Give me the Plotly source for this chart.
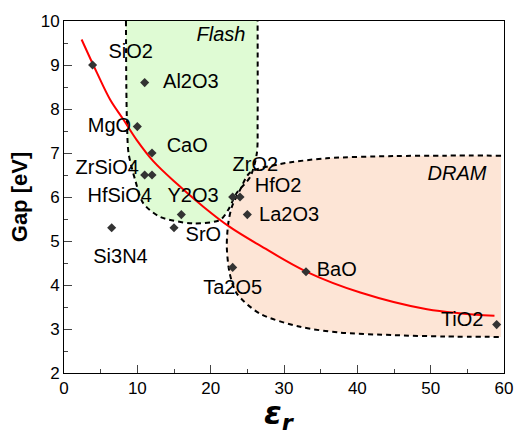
import plotly.graph_objects as go

# ---- data ----
materials = ["SiO2", "Al2O3", "MgO", "CaO", "ZrSiO4", "HfSiO4", "Y2O3", "SrO", "Si3N4",
             "ZrO2", "HfO2", "La2O3", "Ta2O5", "BaO", "TiO2"]
eps_r = [3.9, 11.0, 10.0, 12.0, 11.0, 12.0, 16.0, 15.0, 6.5, 23.0, 24.0, 25.0, 23.0, 33.0, 59.0]
gap_ev = [9.0, 8.6, 7.6, 7.0, 6.5, 6.5, 5.6, 5.3, 5.3, 6.0, 6.0, 5.6, 4.4, 4.3, 3.1]

# label positions (center of text)
label_eps = [9.1, 17.3, 6.2, 16.8, 5.9, 7.6, 17.6, 19.0, 7.7, 26.1, 29.2, 30.7, 23.0, 37.2, 54.3]
label_gap = [9.27, 8.58, 7.6, 7.14, 6.64, 5.99, 5.99, 5.11, 4.62, 6.70, 6.22, 5.57, 3.90, 4.32, 3.18]

# fitted trend (red curve)
fit_eps = [2.4, 4.5, 6.3, 8.1, 9.9, 12.2, 15.4, 19.0, 22.6, 26.7, 33.1, 40.4, 49.5, 58.7]
fit_gap = [9.58, 8.82, 8.21, 7.76, 7.30, 6.81, 6.30, 5.78, 5.32, 4.90, 4.30, 3.83, 3.45, 3.30]

# Flash region boundary
flash_eps = [8.45, 8.5, 8.6, 8.8, 9.7, 10.8, 13.1, 17.6, 21.3, 22.4, 23.55, 25.4, 26.3, 26.4, 26.4]
flash_gap = [10.0, 8.5, 7.6, 7.0, 6.39, 5.86, 5.55, 5.40, 5.48, 5.71, 6.09, 6.46, 7.0, 7.76, 10.0]

# DRAM region boundary
dram_eps = [59.6, 52.0, 44.9, 35.8, 29.5, 25.4, 24.0, 22.9, 22.4, 22.2, 22.6, 23.55, 26.7, 32.2, 37.6, 45.0, 52.0, 59.6]
dram_gap = [6.94, 6.94, 6.93, 6.88, 6.75, 6.56, 6.16, 5.78, 5.40, 4.87, 4.26, 3.81, 3.35, 3.05, 2.92, 2.86, 2.83, 2.82]

region_names = ["Flash", "DRAM"]
region_label_eps = [21.4, 53.6]
region_label_gap = [9.67, 6.49]

x_title = "<b><i>ε<sub>r</sub></i></b>"
y_title = "<b>Gap [eV]</b>"

FONT = "Liberation Sans, Arial, Helvetica, sans-serif"

fig = go.Figure()

fig.add_trace(go.Scatter(x=flash_eps, y=flash_gap, mode="lines", fill="toself",
                         fillcolor="#dffbd4", line=dict(width=0, shape="spline", smoothing=0.8),
                         hoverinfo="skip", showlegend=False))
fig.add_trace(go.Scatter(x=dram_eps, y=dram_gap, mode="lines", fill="toself",
                         fillcolor="#fde5d6", line=dict(width=0, shape="spline", smoothing=0.8),
                         hoverinfo="skip", showlegend=False))
for xs, ys in [(flash_eps, flash_gap), (dram_eps, dram_gap)]:
    fig.add_trace(go.Scatter(x=xs, y=ys, mode="lines",
                             line=dict(color="black", width=2, dash="5px,4px", shape="spline", smoothing=0.8),
                             hoverinfo="skip", showlegend=False))

fig.add_trace(go.Scatter(x=fit_eps, y=fit_gap, mode="lines",
                         line=dict(color="#ff0000", width=2, shape="spline", smoothing=1.0),
                         showlegend=False))

fig.add_trace(go.Scatter(x=eps_r, y=gap_ev, mode="markers",
                         marker=dict(symbol="diamond", size=7, color="#333333"),
                         showlegend=False))

fig.add_trace(go.Scatter(x=label_eps, y=label_gap, mode="text", text=materials,
                         textposition="middle center",
                         textfont=dict(family=FONT, size=20, color="black"),
                         showlegend=False))

fig.add_trace(go.Scatter(x=region_label_eps, y=region_label_gap, mode="text",
                         text=["<i>" + n + "</i>" for n in region_names],
                         textposition="middle center",
                         textfont=dict(family=FONT, size=20, color="black"),
                         showlegend=False))

fig.add_annotation(text=x_title, xref="paper", yref="paper", x=0.49, y=-0.118,
                   xanchor="center", yanchor="middle", showarrow=False,
                   font=dict(family="DejaVu Sans, sans-serif", size=32, color="black"))

fig.update_layout(
    width=519, height=430,
    margin=dict(l=64, r=15, t=21, b=57, autoexpand=False),
    plot_bgcolor="white", paper_bgcolor="white",
    font=dict(family=FONT, color="black"),
    xaxis=dict(range=[0, 60], dtick=10, ticks="inside", ticklen=8, tickwidth=1,
               minor=dict(ticks="inside", ticklen=4, dtick=5, tickwidth=1),
               showline=True, linecolor="black", linewidth=1, mirror=True,
               showgrid=False, zeroline=False,
               tickfont=dict(family=FONT, size=17, color="black")),
    yaxis=dict(range=[2, 10], dtick=1, ticks="inside", ticklen=8, tickwidth=1,
               minor=dict(ticks="inside", ticklen=4, dtick=0.5, tickwidth=1),
               showline=True, linecolor="black", linewidth=1, mirror=True,
               showgrid=False, zeroline=False,
               tickfont=dict(family=FONT, size=17, color="black"),
               title=dict(text=y_title, standoff=6,
                          font=dict(family=FONT, size=22, color="black"))),
)

fig.write_html("out.html", config={"displayModeBar": False},
               post_script="document.body.style.margin='0';")
